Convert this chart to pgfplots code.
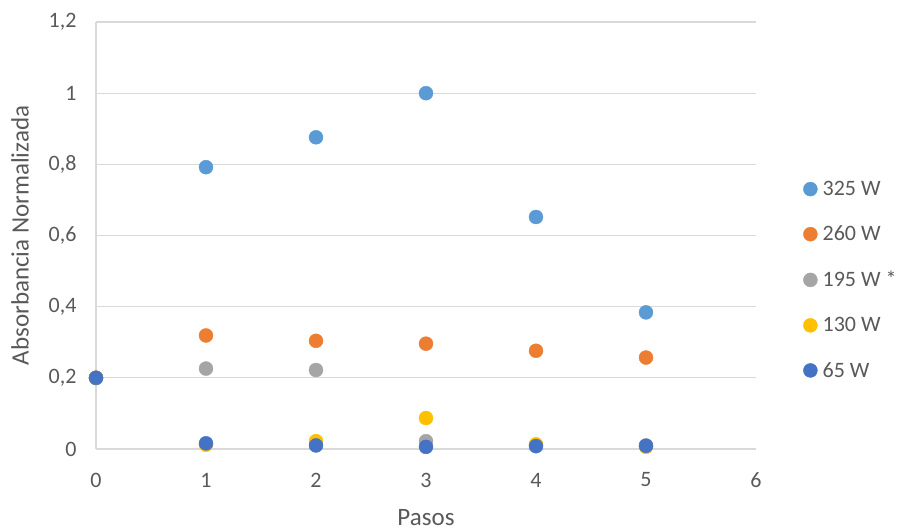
\documentclass[border=0pt]{standalone}
\usepackage{pgfplots}
\pgfplotsset{compat=1.18}
\usepackage{fontspec}
\setmainfont{Carlito}
\usetikzlibrary{calc}
\definecolor{txt}{RGB}{89,89,89}
\definecolor{gridc}{RGB}{217,217,217}
\definecolor{sA}{RGB}{91,155,213}
\definecolor{sB}{RGB}{237,125,49}
\definecolor{sC}{RGB}{165,165,165}
\definecolor{sD}{RGB}{255,192,0}
\definecolor{sE}{RGB}{68,114,196}
\begin{document}
\begin{tikzpicture}[x=1pt,y=1pt]
\begin{axis}[
  name=ax,
  at={(0,0)}, anchor=south west,
  scale only axis,
  width=660pt, height=427pt,
  xmin=0, xmax=6, ymin=0, ymax=1.2,
  xtick={0,1,2,3,4,5,6},
  ytick={0,0.2,0.4,0.6,0.8,1,1.2},
  yticklabels={0,{0,2},{0,4},{0,6},{0,8},1,{1,2}},
  ymajorgrids, xmajorgrids=false,
  major grid style={color=gridc, line width=1.2pt},
  major tick length=0pt,
  axis x line*=bottom, axis y line*=left,
  axis line style={color=gridc, line width=1.2pt, -},
  tick label style={font=\fontsize{22}{26}\selectfont, text=txt},
  /pgf/number format/assume math mode=true,
  xticklabel style={anchor=center, yshift=-31pt},
  yticklabel style={anchor=east, xshift=-16pt},
  xlabel={Pasos}, ylabel={Absorbancia Normalizada},
  label style={font=\fontsize{25}{30}\selectfont, text=txt},
  xlabel style={at={(axis description cs:0.5,0)}, anchor=center, yshift=-69pt},
  ylabel style={at={(axis description cs:-0.1152,0.5)}, anchor=center},
  legend style={draw=none, fill=none, at={(1,0.396)}, anchor=west, xshift=47pt,
    font=\fontsize{22}{26}\selectfont, text=txt, row sep=25pt, inner sep=0pt,
    /tikz/every even column/.append style={column sep=0pt},
    nodes={inner xsep=5pt}},
  legend cell align=left,
  legend image code/.code={\fill (8pt,0pt) circle (7pt);},
  clip=false,
]
\addplot[only marks, mark=*, mark size=7pt, color=sA, mark options={draw=none, fill=sA}] coordinates {
(0,0.2) (1,0.792) (2,0.876) (3,1.0) (4,0.652) (5,0.384)};
\addlegendentry{325 W}
\addplot[only marks, mark=*, mark size=7pt, color=sB, mark options={draw=none, fill=sB}] coordinates {
(0,0.2) (1,0.319) (2,0.304) (3,0.296) (4,0.276) (5,0.257)};
\addlegendentry{260 W}
\addplot[only marks, mark=*, mark size=7pt, color=sC, mark options={draw=none, fill=sC}] coordinates {
(0,0.2) (1,0.226) (2,0.222) (3,0.022) (4,0.012) (5,0.010)};
\addlegendentry{195 W *}
\addplot[only marks, mark=*, mark size=7pt, color=sD, mark options={draw=none, fill=sD}] coordinates {
(0,0.2) (1,0.012) (2,0.022) (3,0.087) (4,0.013) (5,0.006)};
\addlegendentry{130 W}
\addplot[only marks, mark=*, mark size=7pt, color=sE, mark options={draw=none, fill=sE}] coordinates {
(0,0.2) (1,0.016) (2,0.010) (3,0.006) (4,0.008) (5,0.009)};
\addlegendentry{65 W}
\end{axis}
\path ($(ax.south west)+(-96pt,-82pt)$) rectangle ($(ax.south west)+(810pt,449pt)$);
\end{tikzpicture}
\end{document}
